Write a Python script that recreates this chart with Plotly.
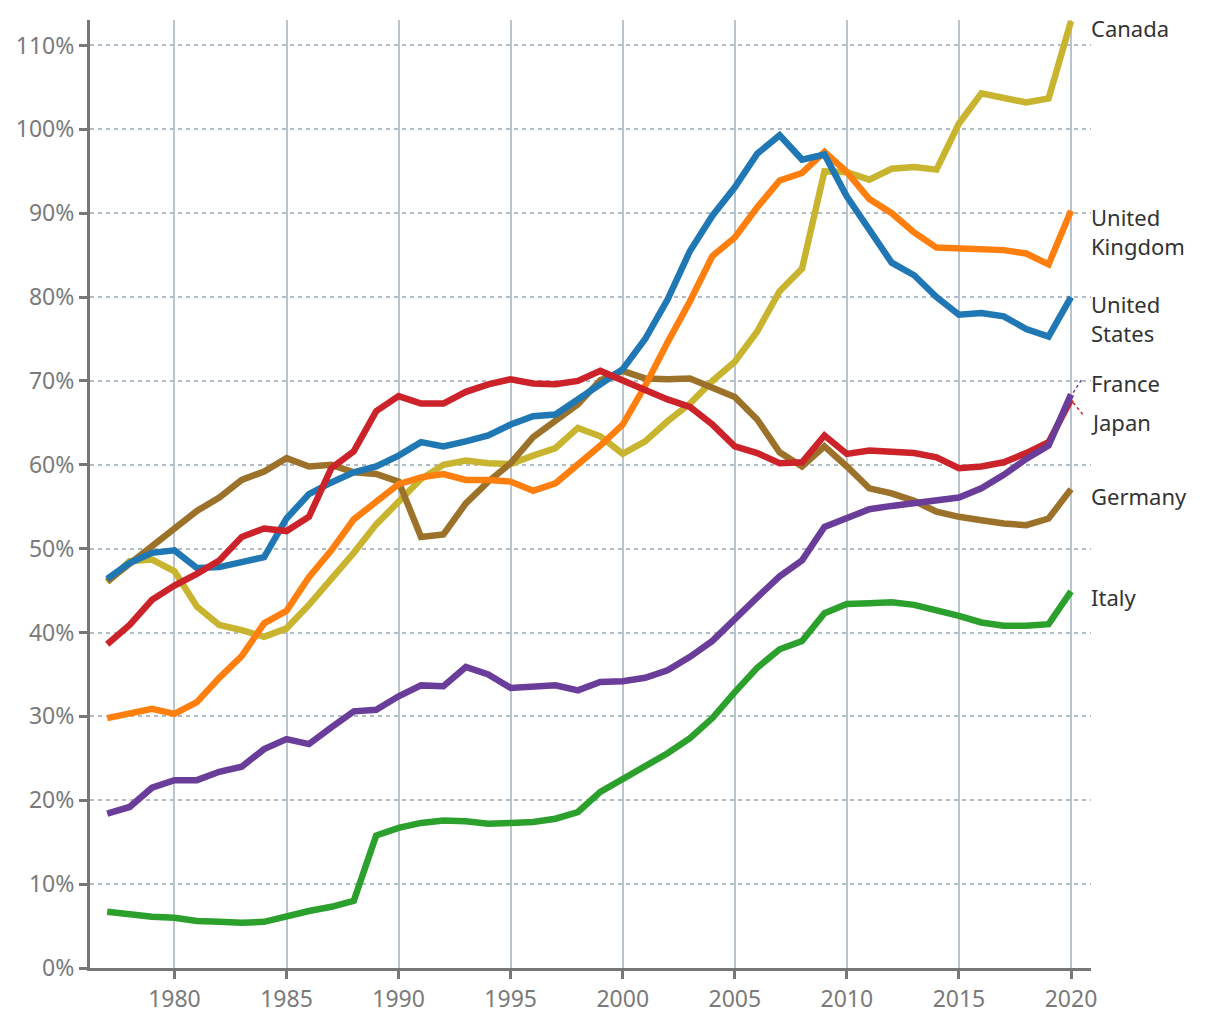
import plotly.graph_objects as go

years = list(range(1977, 2021))

canada = [46.0, 48.5, 48.7, 47.3, 43.1, 40.9, 40.3, 39.5, 40.5, 43.3, 46.4, 49.5, 52.9, 55.7, 58.3, 60.0, 60.5, 60.2, 60.1, 61.1,
          62.0, 64.4, 63.4, 61.3, 62.8, 65.2, 67.3, 70.0, 72.3, 75.9, 80.7, 83.4, 95.0, 94.9, 94.0, 95.3, 95.5, 95.2, 100.7, 104.3,
          103.8, 103.2, 103.7, 112.9]
germany = [46.1, 48.2, 50.3, 52.3, 54.5, 56.1, 58.2, 59.2, 60.8, 59.8, 60.0, 59.1, 58.9, 58.0, 51.4, 51.7, 55.4, 58.0, 60.2, 63.3,
           65.2, 67.2, 70.1, 71.2, 70.3, 70.2, 70.3, 69.1, 68.1, 65.4, 61.5, 59.8, 62.2, 59.8, 57.2, 56.6, 55.7, 54.4, 53.8, 53.4,
           53.0, 52.8, 53.6, 57.1]
uk = [29.8, 30.3, 30.9, 30.3, 31.7, 34.6, 37.2, 41.1, 42.6, 46.6, 49.8, 53.5, 55.7, 57.7, 58.5, 58.9, 58.2, 58.2, 58.0, 56.9,
      57.8, 60.0, 62.3, 64.8, 69.4, 74.6, 79.5, 84.9, 87.1, 90.7, 93.9, 94.8, 97.3, 94.9, 91.7, 90.0, 87.7, 85.9, 85.8, 85.8,
      85.6, 85.2, 83.9, 90.3]
us = [46.4, 48.3, 49.5, 49.8, 47.7, 47.8, 48.4, 49.0, 53.6, 56.5, 57.9, 59.1, 59.8, 61.1, 62.7, 62.2, 62.8, 63.5, 64.8, 65.8,
      66.0, 67.7, 69.6, 71.4, 75.0, 79.7, 85.5, 89.7, 93.1, 97.1, 99.3, 96.4, 97.0, 92.0, 88.0, 84.1, 82.6, 80.0, 77.9, 78.1,
      77.7, 76.2, 75.3, 80.0]
japan = [38.6, 40.9, 43.9, 45.6, 47.0, 48.6, 51.4, 52.4, 52.1, 53.8, 59.6, 61.6, 66.4, 68.2, 67.3, 67.3, 68.7, 69.6, 70.2, 69.7,
         69.6, 70.0, 71.2, 70.1, 68.8, 67.8, 66.9, 64.8, 62.2, 61.4, 60.2, 60.3, 63.5, 61.3, 61.7, 61.5, 61.4, 60.9, 59.6, 59.8,
         60.3, 61.4, 62.7, 67.8]
france = [18.4, 19.2, 21.5, 22.4, 22.4, 23.4, 24.0, 26.1, 27.3, 26.7, 28.7, 30.6, 30.8, 32.4, 33.7, 33.6, 35.9, 35.0, 33.4, 33.5,
          33.7, 33.1, 34.1, 34.2, 34.6, 35.5, 37.1, 39.0, 41.7, 44.2, 46.7, 48.6, 52.6, 53.6, 54.7, 55.1, 55.4, 55.7, 56.1, 57.2,
          58.8, 60.7, 62.3, 68.4]
italy = [6.7, 6.4, 6.1, 6.0, 5.6, 5.5, 5.4, 5.5, 6.2, 6.8, 7.3, 8.0, 15.8, 16.7, 17.3, 17.6, 17.5, 17.2, 17.3, 17.4,
         17.8, 18.6, 21.0, 22.5, 24.0, 25.6, 27.4, 29.8, 32.9, 35.8, 38.0, 39.0, 42.3, 43.4, 43.5, 43.6, 43.3, 42.7, 42.0, 41.2,
         40.8, 40.8, 41.0, 44.9]

series = [
    ("Canada", canada, "#c8b42e"),
    ("Germany", germany, "#9c722b"),
    ("United Kingdom", uk, "#ff7f0e"),
    ("United States", us, "#1f77b4"),
    ("Japan", japan, "#cc2229"),
    ("France", france, "#6a3d9a"),
    ("Italy", italy, "#2ca02c"),
]

# label text and label vertical position (value) at right side
labels = {
    "Canada": ("Canada", 112.1),
    "United Kingdom": ("United<br>Kingdom", 87.8),
    "United States": ("United<br>States", 77.5),
    "France": ("France", 69.7),
    "Japan": ("Japan", 65.1),
    "Germany": ("Germany", 56.3),
    "Italy": ("Italy", 44.2),
}

xtick_vals = [1980, 1985, 1990, 1995, 2000, 2005, 2010, 2015, 2020]
ytick_vals = list(range(0, 111, 10))
ytick_text = [f"{v}%" for v in ytick_vals]

fig = go.Figure()
for name, vals, col in series:
    fig.add_trace(go.Scatter(x=years, y=vals, mode="lines", name=name,
                             line=dict(color=col, width=6.5), cliponaxis=False,
                             hoverinfo="x+y+name"))

label_x = 2020.8
for name, vals, col in series:
    txt, yv = labels[name]
    fig.add_annotation(x=label_x, y=yv, xref="x", yref="y", text=txt, showarrow=False,
                       xanchor="left", yanchor="middle", align="left",
                       font=dict(family="Noto Sans", size=22, color="#333333"))

# dotted leader lines for France and Japan
fig.add_shape(type="line", xref="x", yref="y", x0=2020.1, y0=france[-1] + 0.2, x1=2020.53, y1=70.4,
              line=dict(color="#6a3d9a", width=1.5, dash="dot"))
fig.add_shape(type="line", xref="x", yref="y", x0=2020.1, y0=japan[-1] - 0.4, x1=2020.53, y1=66.0,
              line=dict(color="#cc2229", width=1.5, dash="dot"))

fig.update_layout(
    width=1220, height=1020,
    margin=dict(l=81.5, r=137, t=12, b=59.5, autoexpand=False),
    plot_bgcolor="white", paper_bgcolor="white",
    showlegend=False,
    font=dict(family="Noto Sans", color="#777777", size=23),
)
fig.update_xaxes(range=[1976.232, 2020.892], tickvals=xtick_vals,
                 showgrid=True, gridcolor="#b9c4cc", gridwidth=1.5,
                 showline=True, linecolor="#777777", linewidth=3,
                 ticks="outside", ticklen=8, tickwidth=3, tickcolor="#777777",
                 tickfont=dict(family="Noto Sans", size=23, color="#7a7a7a"),
                 zeroline=False, automargin=False)
fig.update_yaxes(range=[0, 113.04], tickvals=ytick_vals, ticktext=ytick_text,
                 showgrid=True, gridcolor="#b0bcc4", gridwidth=1.5, griddash="4px,4px",
                 showline=True, linecolor="#777777", linewidth=3,
                 ticks="outside", ticklen=8, tickwidth=3, tickcolor="#777777",
                 tickfont=dict(family="Noto Sans", size=23, color="#7a7a7a"),
                 zeroline=False, automargin=False)

fig.write_html("out.html")
